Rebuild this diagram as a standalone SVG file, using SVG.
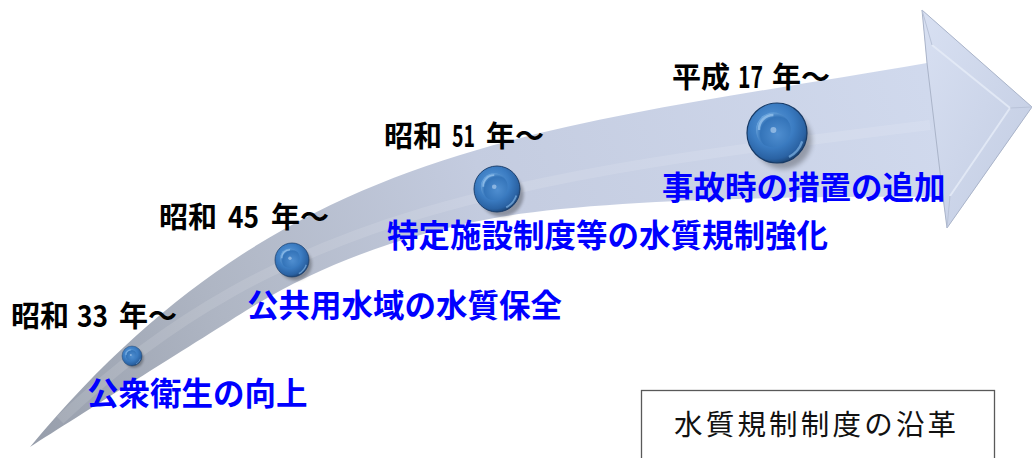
<svg xmlns="http://www.w3.org/2000/svg" width="1032" height="458" viewBox="0 0 1032 458">
  <style>
    .year { font-family: "Noto Sans CJK JP", "Noto Sans", sans-serif; font-size: 29px; font-weight: 700; fill: #000; }
    .num { font-family: "Noto Sans CJK JP", "Noto Sans", sans-serif; font-size: 30px; font-weight: 600; }
    .desc { font-family: "Noto Sans CJK JP", "Noto Sans", sans-serif; font-size: 31.5px; font-weight: 700; fill: #0000ff; }
    .title { font-family: "Noto Sans CJK JP", "Noto Sans", sans-serif; font-size: 28.5px; font-weight: 400; fill: #111; letter-spacing: 3.2px; }
  </style>
  <defs>
    <linearGradient id="arrowFill" gradientUnits="userSpaceOnUse" x1="30" y1="447" x2="1000" y2="80">
      <stop offset="0" stop-color="#979eab"/>
      <stop offset="0.22" stop-color="#afb6c4"/>
      <stop offset="0.5" stop-color="#c4cce0"/>
      <stop offset="1" stop-color="#d2dbef"/>
    </linearGradient>
    <linearGradient id="headFill" x1="0" y1="0" x2="1" y2="1">
      <stop offset="0" stop-color="#d8e0f2"/>
      <stop offset="1" stop-color="#c2cce2"/>
    </linearGradient>
    <radialGradient id="ballBody" cx="0.42" cy="0.38" r="0.65">
      <stop offset="0" stop-color="#5f9ddb"/>
      <stop offset="0.55" stop-color="#3b7cc2"/>
      <stop offset="0.85" stop-color="#2a62a3"/>
      <stop offset="1" stop-color="#1b416f"/>
    </radialGradient>
    <radialGradient id="ballInner" cx="0.62" cy="0.62" r="0.7">
      <stop offset="0" stop-color="#4f8ed0"/>
      <stop offset="0.7" stop-color="#3474b9"/>
      <stop offset="1" stop-color="#7ab3e8"/>
    </radialGradient>
    <filter id="soft" x="-50%" y="-50%" width="200%" height="200%">
      <feGaussianBlur stdDeviation="4"/>
    </filter>
    <g id="ball">
      <circle cx="10" cy="12" r="48" fill="#000" opacity="0.28" filter="url(#soft)"/>
      <circle cx="0" cy="0" r="50" fill="url(#ballBody)" stroke="#173a66" stroke-width="2"/>
      <path d="M 20 40 A 45 45 0 0 0 42 14" fill="none" stroke="#7fb4e6" stroke-width="4" opacity="0.7"/>
      <circle cx="-6" cy="-5" r="29" fill="url(#ballInner)"/>
      <path d="M -30 -5 A 24 24 0 0 1 -6 -30" fill="none" stroke="#9cc8f0" stroke-width="4" opacity="0.7"/>
      <circle cx="-6" cy="-5" r="5" fill="#cfe4fa" opacity="0.5"/>
    </g>
  </defs>

  <g id="timeline-arrow">
    <path d="M 30 447 C 285 140 540 130 927 63 L 922 10 L 1032 107 L 947 228 L 943 197 C 780 196 600 200 500 217 C 420 231 330 258 247 310 C 190 346 80 415 30 447 Z" fill="url(#arrowFill)"/>
    <path d="M 927 63 L 922 10 L 1032 107 L 947 228 L 943 197 Z" fill="url(#headFill)" stroke="#aab4c9" stroke-width="1"/>
    <path d="M 932 45 L 1010 108 L 950 196" fill="none" stroke="#e6ecf8" stroke-width="2" opacity="0.8"/>
    <path d="M 922 10 L 932 45 M 1032 107 L 1010 108 M 947 228 L 950 196" fill="none" stroke="#b9c3d8" stroke-width="1"/>
    <path d="M 60 420 C 280 210 520 175 930 125" fill="none" stroke="#ffffff" stroke-width="10" opacity="0.12"/>
  </g>

  <g id="node-s33">
    <use href="#ball" transform="translate(132,356) scale(0.2)"/>
    <text class="year" y="327"><tspan x="11">昭和</tspan><tspan class="num" x="77" textLength="31" lengthAdjust="spacingAndGlyphs">33</tspan><tspan x="119">年～</tspan></text>
    <text class="desc" x="87" y="405">公衆衛生の向上</text>
  </g>

  <g id="node-s45">
    <use href="#ball" transform="translate(292,260) scale(0.34)"/>
    <text class="year" y="228"><tspan x="159">昭和</tspan><tspan class="num" x="228" textLength="31" lengthAdjust="spacingAndGlyphs">45</tspan><tspan x="271">年～</tspan></text>
    <text class="desc" x="247" y="317">公共用水域の水質保全</text>
  </g>

  <g id="node-s51">
    <use href="#ball" transform="translate(497,189) scale(0.46)"/>
    <text class="year" y="147"><tspan x="384">昭和</tspan><tspan class="num" x="452" textLength="23" lengthAdjust="spacingAndGlyphs">51</tspan><tspan x="486">年～</tspan></text>
    <text class="desc" x="387" y="247">特定施設制度等の水質規制強化</text>
  </g>

  <g id="node-h17">
    <use href="#ball" transform="translate(777,133) scale(0.6)"/>
    <text class="year" y="88"><tspan x="672">平成</tspan><tspan class="num" x="738" textLength="25" lengthAdjust="spacingAndGlyphs">17</tspan><tspan x="772">年～</tspan></text>
    <text class="desc" x="662" y="199">事故時の措置の追加</text>
  </g>

  <g id="title-box">
    <rect x="641.5" y="390.5" width="353" height="80" fill="#fff" stroke="#595959" stroke-width="1.3"/>
    <text class="title" x="674" y="435">水質規制制度の沿革</text>
  </g>
</svg>
